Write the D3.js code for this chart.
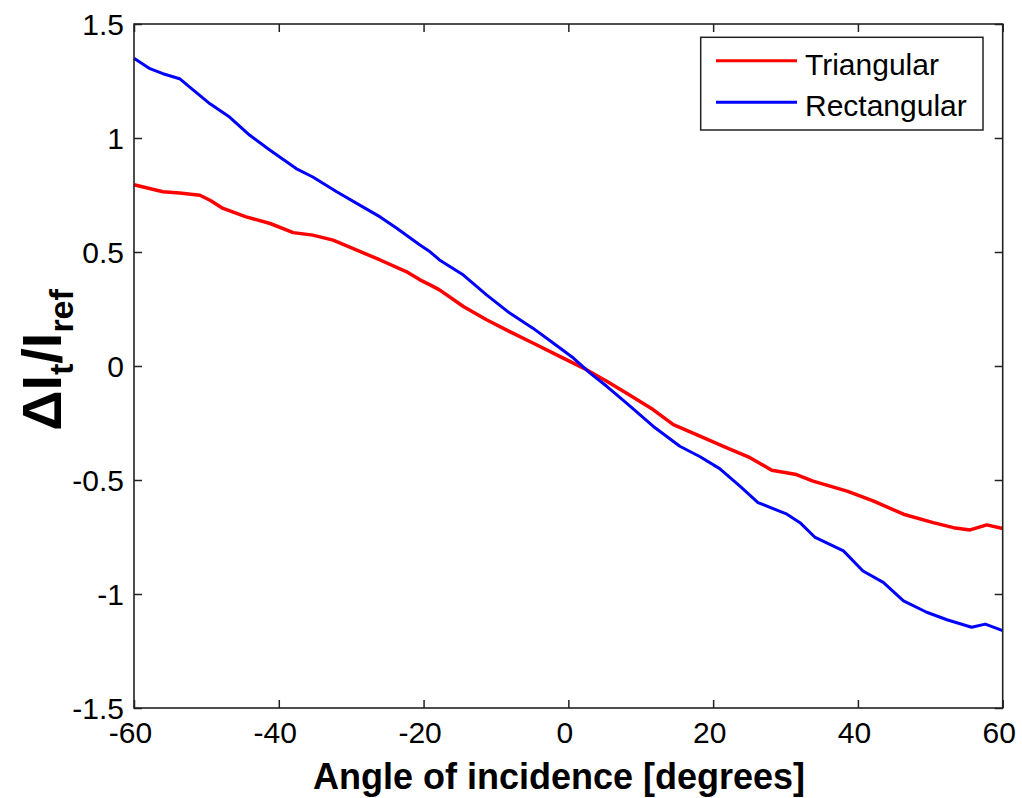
<!DOCTYPE html>
<html>
<head>
<meta charset="utf-8">
<script src="https://cdn.jsdelivr.net/npm/d3@7"></script>
<style>
  html, body { margin: 0; padding: 0; background: #fff; }
  svg { display: block; }
  text { font-family: "Liberation Sans", Arial, sans-serif; fill: #000; }
</style>
</head>
<body>
<svg id="chart" width="1022" height="798"></svg>
<script>
// Measured transmitted-intensity change vs. angle of incidence
const triAngles = [-60, -56, -53.7, -50.9, -49.5, -47.7, -44.5, -41.2, -38, -35.3, -32.5, -29.3, -26, -22.4, -20.5, -19.1, -17.8, -14.5, -11.3, -8.1, -4.9, -1.2, 2.5, 5.3, 8, 11.7, 14.5, 17.7, 21.9, 25.1, 28.1, 31.5, 33.8, 38.5, 42.1, 46.3, 50.4, 53.2, 55.5, 57.8, 60];
const triValues = [0.795, 0.764, 0.759, 0.749, 0.727, 0.691, 0.654, 0.625, 0.585, 0.574, 0.552, 0.509, 0.465, 0.414, 0.378, 0.356, 0.334, 0.261, 0.203, 0.151, 0.101, 0.042, -0.016, -0.067, -0.118, -0.191, -0.257, -0.301, -0.359, -0.402, -0.457, -0.476, -0.505, -0.549, -0.592, -0.650, -0.687, -0.709, -0.719, -0.697, -0.713];

const rectAngles = [-60, -57.8, -56, -53.7, -52.3, -49.5, -46.8, -44, -41.2, -37.6, -35.3, -32, -28.4, -26, -23.7, -20.5, -19.1, -17.8, -14.5, -11.3, -8.1, -4.9, -2.1, 0.7, 3, 5.3, 8, 11.7, 15.4, 18.2, 20.9, 23.7, 26.2, 30.2, 32, 34.1, 38, 40.7, 43.5, 46.3, 49.5, 52.3, 55.7, 57.6, 60];
const rectValues = [1.35, 1.304, 1.282, 1.26, 1.223, 1.15, 1.092, 1.012, 0.946, 0.866, 0.829, 0.764, 0.698, 0.654, 0.604, 0.531, 0.501, 0.465, 0.399, 0.312, 0.232, 0.166, 0.101, 0.035, -0.031, -0.089, -0.162, -0.264, -0.352, -0.398, -0.450, -0.527, -0.599, -0.650, -0.687, -0.752, -0.811, -0.899, -0.949, -1.030, -1.080, -1.113, -1.146, -1.132, -1.161];

const xTicks = [-60, -40, -20, 0, 20, 40, 60];
const yTicks = [-1.5, -1, -0.5, 0, 0.5, 1, 1.5];
const seriesNames = ["Triangular", "Rectangular"];
const seriesColors = ["#ff0000", "#0000ff"];

const svg = d3.select("#chart");
const margin = { left: 134, top: 24, right: 1022 - 1002.7, bottom: 798 - 708 };
const W = 1022 - margin.left - margin.right;
const H = 798 - margin.top - margin.bottom;

const x = d3.scaleLinear().domain([-60, 60]).range([0, W]);
const y = d3.scaleLinear().domain([-1.5, 1.5]).range([H, 0]);

const g = svg.append("g").attr("transform", `translate(${margin.left},${margin.top})`);

// Data lines
const series = [
  { name: seriesNames[0], color: seriesColors[0], width: 3.5,
    pts: triAngles.map((a, i) => [a, triValues[i]]) },
  { name: seriesNames[1], color: seriesColors[1], width: 3,
    pts: rectAngles.map((a, i) => [a, rectValues[i]]) }
];
const line = d3.line().x(d => x(d[0])).y(d => y(d[1]));
g.selectAll("path.series").data(series).enter().append("path")
  .attr("class", "series")
  .attr("d", d => line(d.pts))
  .attr("fill", "none")
  .attr("stroke", d => d.color)
  .attr("stroke-width", d => d.width)
  .attr("stroke-linejoin", "round");

// Axes: ticks drawn inward on all four sides of the box
const tickLen = 8;
const axisColor = "#222";
const fmt = d => String(d);

const xBottom = g.append("g").attr("transform", `translate(0,${H})`)
  .call(d3.axisBottom(x).tickValues(xTicks).tickSize(-tickLen).tickPadding(13).tickFormat(fmt));
const xTop = g.append("g")
  .call(d3.axisTop(x).tickValues(xTicks).tickSize(-tickLen).tickFormat(""));
const yLeft = g.append("g")
  .call(d3.axisLeft(y).tickValues(yTicks).tickSize(-tickLen).tickPadding(10).tickFormat(fmt));
const yRight = g.append("g").attr("transform", `translate(${W},0)`)
  .call(d3.axisRight(y).tickValues(yTicks).tickSize(-tickLen).tickFormat(""));

[xBottom, xTop, yLeft, yRight].forEach(a => {
  a.select(".domain").remove();
  a.selectAll(".tick line").attr("stroke", axisColor).attr("stroke-width", 1.5);
  a.selectAll(".tick text").attr("font-size", 30).attr("fill", "#222")
    .attr("font-family", "'Liberation Sans', Arial, sans-serif");
});
yLeft.selectAll(".tick text").attr("dy", "0.36em");
xBottom.selectAll(".tick text").attr("dy", "0.72em").attr("dx", -4);

// Plot box
g.append("rect").attr("x", 0).attr("y", 0).attr("width", W).attr("height", H)
  .attr("fill", "none").attr("stroke", axisColor).attr("stroke-width", 1.6);

// Legend
const lg = svg.append("g");
lg.append("rect").attr("x", 700.7).attr("y", 37.3).attr("width", 282.3).attr("height", 92.7)
  .attr("fill", "#fff").attr("stroke", axisColor).attr("stroke-width", 1.5);
const legendRows = [60.7, 102.3];
series.forEach((s, i) => {
  lg.append("line").attr("x1", 716).attr("x2", 797)
    .attr("y1", legendRows[i]).attr("y2", legendRows[i])
    .attr("stroke", s.color).attr("stroke-width", 3);
  lg.append("text").attr("x", 805).attr("y", legendRows[i] + 14)
    .attr("font-size", 30).attr("fill", "#222").text(s.name);
});

// Axis titles
svg.append("text").attr("x", 559).attr("y", 789)
  .attr("text-anchor", "middle").attr("font-size", 36).attr("font-weight", "bold")
  .text("Angle of incidence [degrees]");

const yt = svg.append("text")
  .attr("transform", "translate(61,360) rotate(-90)")
  .attr("text-anchor", "middle").attr("font-weight", "bold").attr("font-size", 56);
yt.append("tspan").text("\u0394I");
yt.append("tspan").attr("font-size", 34).attr("dy", 12).text("t");
yt.append("tspan").attr("dy", -12).text("/I");
yt.append("tspan").attr("font-size", 34).attr("dy", 12).text("ref");
</script>
</body>
</html>
